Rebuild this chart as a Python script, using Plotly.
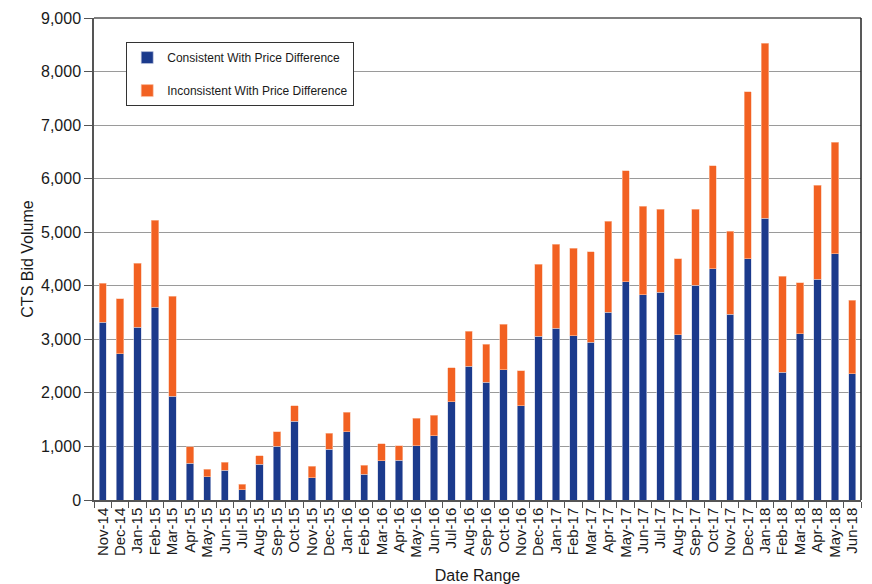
import plotly.graph_objects as go

months = ["Nov-14", "Dec-14", "Jan-15", "Feb-15", "Mar-15", "Apr-15", "May-15", "Jun-15",
          "Jul-15", "Aug-15", "Sep-15", "Oct-15", "Nov-15", "Dec-15", "Jan-16", "Feb-16",
          "Mar-16", "Apr-16", "May-16", "Jun-16", "Jul-16", "Aug-16", "Sep-16", "Oct-16",
          "Nov-16", "Dec-16", "Jan-17", "Feb-17", "Mar-17", "Apr-17", "May-17", "Jun-17",
          "Jul-17", "Aug-17", "Sep-17", "Oct-17", "Nov-17", "Dec-17", "Jan-18", "Feb-18",
          "Mar-18", "Apr-18", "May-18", "Jun-18"]

consistent = [3320, 2730, 3230, 3600, 1940, 690, 435, 560, 192, 670, 1005, 1470, 415, 950,
              1270, 477, 731, 744, 1017, 1196, 1830, 2500, 2200, 2430, 1760, 3056, 3205, 3069,
              2945, 3503, 4075, 3837, 3875, 3088, 4012, 4321, 3465, 4508, 5258, 2381, 3100,
              4124, 4594, 2362]

totals = [4050, 3755, 4425, 5227, 3800, 998, 571, 701, 298, 831, 1271, 1761, 626, 1246,
          1637, 651, 1048, 1017, 1525, 1581, 2468, 3150, 2908, 3286, 2418, 4402, 4774, 4700,
          4631, 5202, 6144, 5487, 5431, 4505, 5431, 6243, 5022, 7626, 8531, 4179, 4061,
          5878, 6677, 3726]

inconsistent = [t - c for t, c in zip(totals, consistent)]

yticks = [0, 1000, 2000, 3000, 4000, 5000, 6000, 7000, 8000, 9000]
ytick_text = ["0", "1,000", "2,000", "3,000", "4,000", "5,000", "6,000", "7,000", "8,000", "9,000"]

FONT = "Liberation Sans, Arial, sans-serif"

fig = go.Figure()
fig.add_trace(go.Bar(
    x=months, y=consistent, name="Consistent With Price Difference",
    marker=dict(color="#1B3A8C", line=dict(color="#C9CFE3", width=0.6)),
    legendgroup="a",
))
fig.add_trace(go.Bar(
    x=months, y=inconsistent, name="Inconsistent With Price Difference",
    marker=dict(color="#F26122", line=dict(color="#FAC3A8", width=0.6)),
    legendgroup="b",
))

fig.update_layout(
    width=864, height=576,
    barmode="stack", bargap=0.58,
    paper_bgcolor="white", plot_bgcolor="white",
    margin=dict(l=86, r=11, t=10, b=84),
    font=dict(family=FONT, color="#1a1a1a", size=15),
    showlegend=True,
    legend=dict(
        x=0.042, y=0.95, xanchor="left", yanchor="top",
        bordercolor="#333333", borderwidth=1, bgcolor="white",
        font=dict(size=12, family=FONT), traceorder="grouped", tracegroupgap=14,
        itemwidth=30,
    ),
    xaxis=dict(
        type="category", tickangle=-90, automargin=False,
        tickmode="array", tickvals=months, ticktext=months,
        showline=True, linecolor="#555555", linewidth=1.5, mirror=False,
        ticks="outside", ticklen=6, tickcolor="#555555", tickson="boundaries",
        tickfont=dict(size=15),
        title=dict(text="Date Range", font=dict(size=16), standoff=14),
    ),
    yaxis=dict(
        range=[0, 9000], tickvals=yticks, ticktext=ytick_text, automargin=False,
        showgrid=True, gridcolor="#9A9A9A", gridwidth=1,
        showline=True, linecolor="#555555", linewidth=1.5,
        ticks="outside", ticklen=8, tickcolor="#555555",
        tickfont=dict(size=16),
        title=dict(text="CTS Bid Volume", font=dict(size=16), standoff=3),
        zeroline=False,
    ),
)

# plot frame: top and right borders
fig.add_shape(type="line", xref="paper", yref="paper", x0=0, x1=1, y0=1, y1=1,
              line=dict(color="#555555", width=1.5))
fig.add_shape(type="line", xref="paper", yref="paper", x0=1, x1=1, y0=0, y1=1,
              line=dict(color="#222222", width=1.5))

fig.write_html("out.html")
